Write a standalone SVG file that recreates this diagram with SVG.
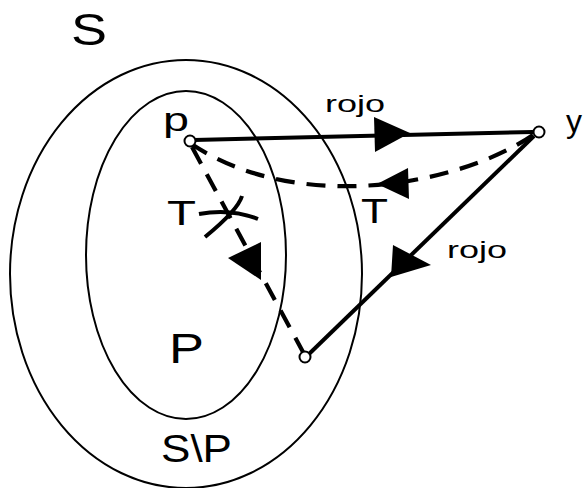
<svg xmlns="http://www.w3.org/2000/svg" width="584" height="488" viewBox="0 0 584 488">
<style>
.set{fill:none;stroke:#000;stroke-width:2}
.edge{fill:none;stroke:#000;stroke-width:4}
.dash{fill:none;stroke:#000;stroke-width:4.2;stroke-dasharray:19 12}
.head{fill:#000;stroke:none}
.node{fill:#fff;stroke:#000;stroke-width:2}
.lbl{font-family:"Liberation Sans",Arial,sans-serif;fill:#000}
</style>
<rect width="584" height="488" fill="#fff"/>
<g id="setS">
<ellipse class="set" cx="186" cy="274" rx="176" ry="214"/>
<text class="lbl" x="71" y="45" font-size="44" textLength="36" lengthAdjust="spacingAndGlyphs">S</text>
<text class="lbl" x="161" y="462" font-size="38" textLength="71" lengthAdjust="spacingAndGlyphs">S\P</text>
</g>
<g id="setP">
<ellipse class="set" cx="186" cy="255" rx="100" ry="164"/>
<text class="lbl" x="169" y="363" font-size="43" textLength="35" lengthAdjust="spacingAndGlyphs">P</text>
</g>
<g id="connectors">
<line class="edge" x1="194" y1="140" x2="533" y2="132"/>
<polygon class="head" points="410,133 374,117 375,152"/>
<text class="lbl" x="325" y="112" font-size="24" textLength="60" lengthAdjust="spacingAndGlyphs">rojo</text>
<path class="dash" d="M533,135 C460,185 300,215 193,145"/>
<polygon class="head" points="377,184 408,168 409,199"/>
<text class="lbl" x="361" y="223" font-size="35" textLength="27" lengthAdjust="spacingAndGlyphs">T</text>
<line class="dash" x1="192" y1="147" x2="303" y2="352"/>
<polygon class="head" points="228,258 261,242 261,280"/>
<path class="edge" d="M199,214 Q230,208 258,219"/>
<path class="edge" d="M205,237 Q238,210 242,196"/>
<text class="lbl" x="167" y="225" font-size="35" textLength="29" lengthAdjust="spacingAndGlyphs">T</text>
<line class="edge" x1="534" y1="136" x2="309" y2="354"/>
<polygon class="head" points="391,277 393,245 431,265"/>
<text class="lbl" x="447" y="258" font-size="24" textLength="60" lengthAdjust="spacingAndGlyphs">rojo</text>
</g>
<g id="node-p">
<circle class="node" cx="190" cy="141" r="5.5"/>
<text class="lbl" x="163" y="131" font-size="34" textLength="26" lengthAdjust="spacingAndGlyphs">p</text>
</g>
<g id="node-y">
<circle class="node" cx="539" cy="132" r="5.5"/>
<text class="lbl" x="566" y="132" font-size="32">y</text>
</g>
<g id="node-q">
<circle class="node" cx="305" cy="357" r="5.5"/>
</g>
</svg>
